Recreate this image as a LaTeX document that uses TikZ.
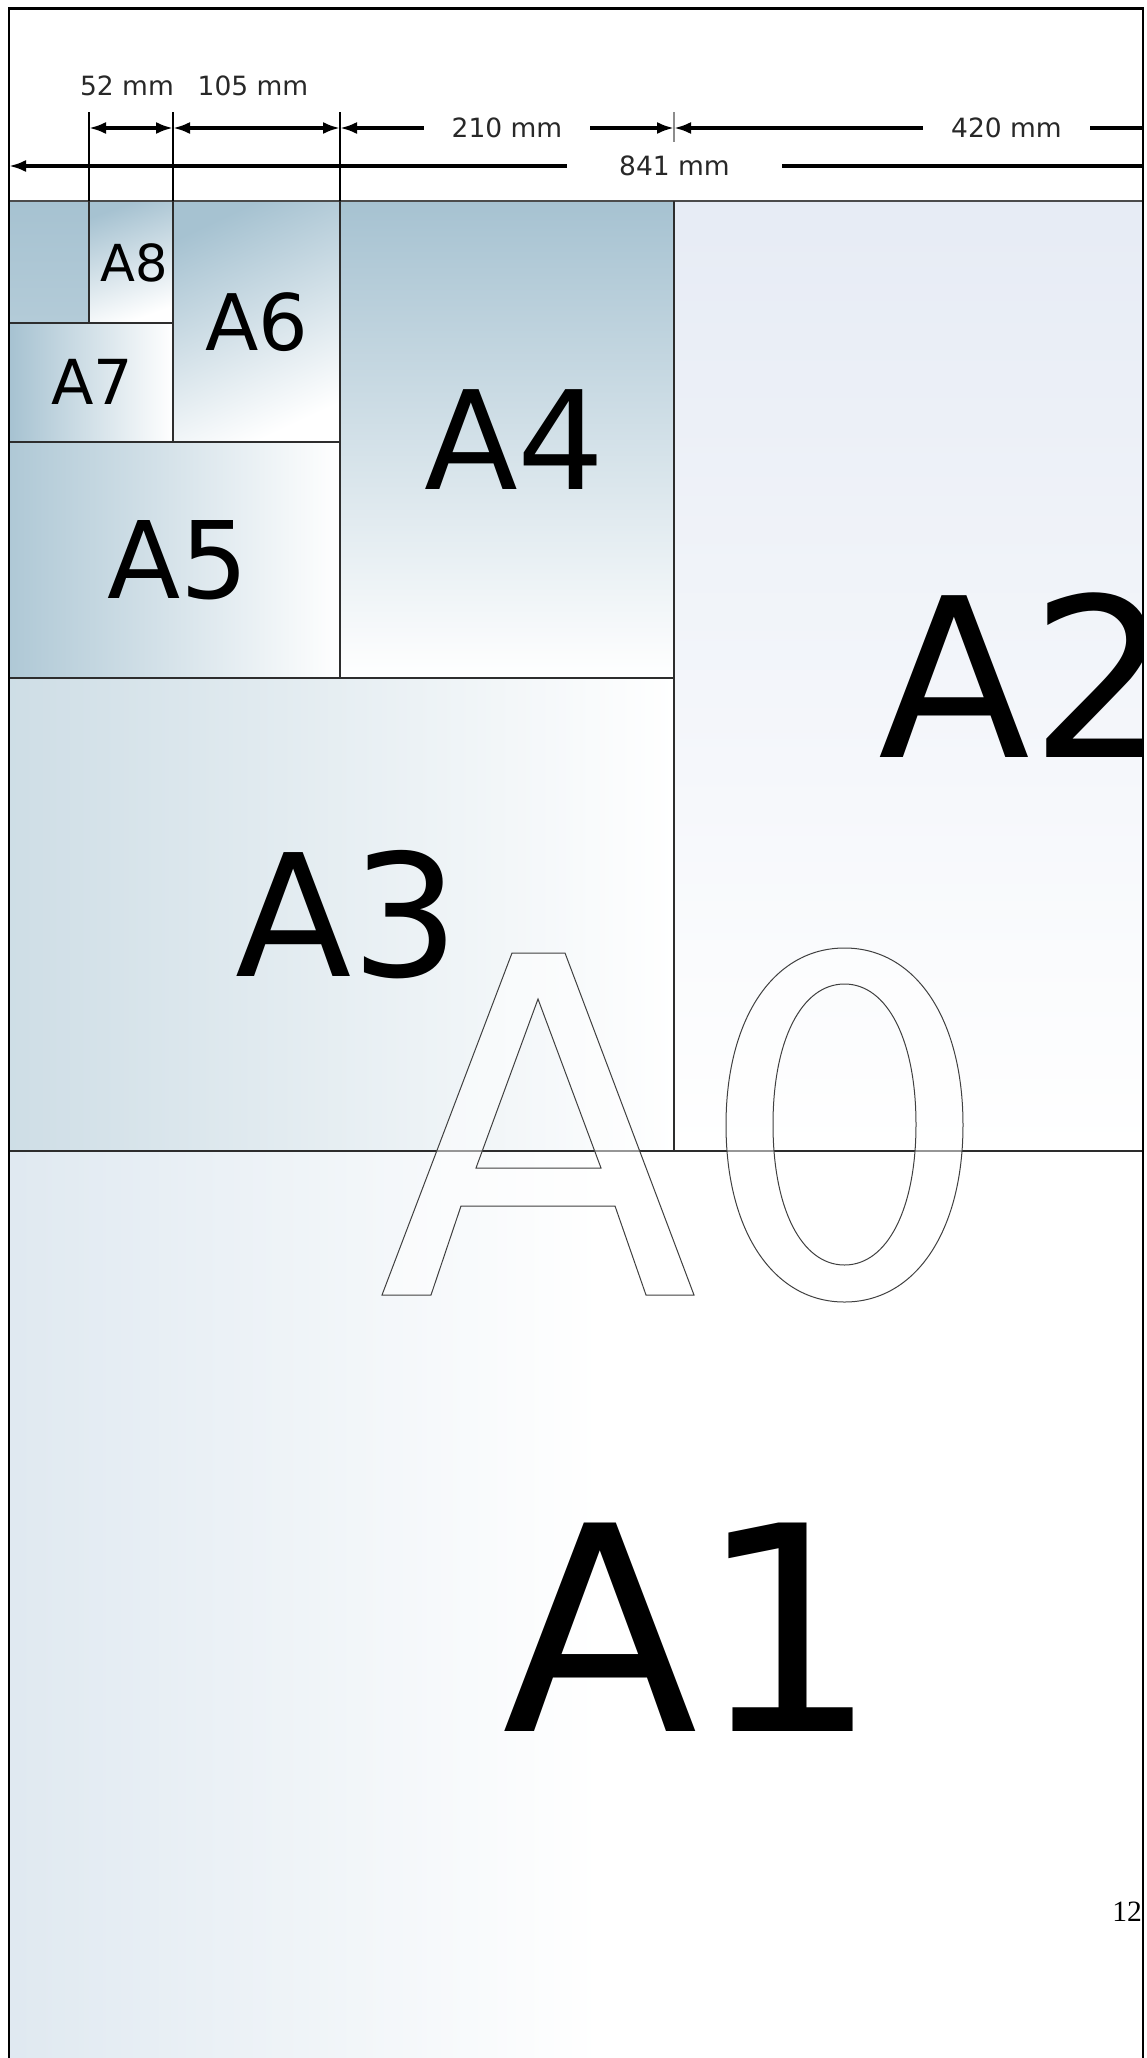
\documentclass[tikz,border=0pt]{standalone}
\usepackage{fontspec}
\setmainfont{DejaVu Sans}
\newfontfamily\pagenumfont{Liberation Serif}
\usetikzlibrary{arrows.meta, positioning, calc}
\definecolor{paperblue}{RGB}{166,194,209}
\definecolor{paperpale}{RGB}{218,229,238}
\definecolor{paperlilac}{RGB}{226,232,243}
\definecolor{sheetline}{RGB}{45,45,45}
\definecolor{labelgray}{RGB}{40,40,40}

\tikzset{
  sheetedge/.style={draw=sheetline, line width=1.6pt},
  dimarrow/.style={line width=3.2pt, {Latex[length=17pt,width=12pt]}-{Latex[length=17pt,width=12pt]}},
  extension/.style={draw=black, line width=1.3pt},
  dimtext/.style={font=\fontsize{26.5}{30}\selectfont, text=labelgray, fill=white, inner xsep=28pt, inner ysep=12pt},
  sizename/.style={anchor=south west, inner sep=0pt, text=black},
  outlineglyph/.style={draw=black!75, line width=1pt, fill=white, fill opacity=0.5, even odd rule}
}

\begin{document}
\begin{tikzpicture}[x=1pt, y=-1pt]
  \useasboundingbox (0,0) rectangle (1147,2058);
  \fill[white] (0,0) rectangle (1147,2058);

  \begin{scope}
    \clip (9,8.5) rectangle (1143,2058);
    \shade[top color=paperblue, bottom color=paperblue!85!white] (9,201) rectangle (89,323);
    \shade[top color=paperblue, bottom color=white, shading angle=20] (89,201) rectangle (173,323);
    \shade[left color=paperblue, right color=white] (9,323) rectangle (173,442);
    \shade[top color=paperblue, bottom color=white, shading angle=25] (173,201) rectangle (340,442);
    \shade[left color=paperblue!90, right color=white] (9,442) rectangle (340,678);
    \shade[top color=paperblue, bottom color=white] (340,201) rectangle (674,678);
    \shade[left color=paperblue!55, right color=white] (9,678) rectangle (674,1151);
    \shade[top color=paperlilac!85!white, bottom color=white] (674,201) rectangle (1143,1151);
    \shade[left color=paperpale!85!white, right color=white] (9,1151) rectangle (600,2058);

    \draw[sheetedge, draw=black!70, line width=2.6pt] (9,201) -- (1143,201);
    \draw[sheetedge] (89,201) -- (89,323);
    \draw[sheetedge] (9,323) -- (173,323);
    \draw[sheetedge] (173,201) -- (173,442);
    \draw[sheetedge] (9,442) -- (340,442);
    \draw[sheetedge] (340,201) -- (340,678);
    \draw[sheetedge] (9,678) -- (674,678);
    \draw[sheetedge] (674,201) -- (674,1151);
    \draw[sheetedge] (9,1151) -- (1143,1151);

    \draw[extension] (89,112) -- (89,201);
    \draw[extension] (173,112) -- (173,201);
    \draw[extension] (340,112) -- (340,201);
    \draw[extension, draw=black!45] (674,112) -- (674,142);

    \coordinate (d52a) at (89,128);
    \coordinate (d52b) at (173,128);
    \coordinate (d105b) at (340,128);
    \coordinate (d210b) at (674,128);
    \coordinate (d420b) at (1339,128);
    \coordinate (d841a) at (9,166);
    \coordinate (d841b) at (1340,166);

    \draw[dimarrow] (d52a) -- (d52b);
    \draw[dimarrow] (d52b) -- (d105b);
    \draw[dimarrow] (d105b) -- (d210b) node[dimtext, midway] (l210) {210 mm};
    \draw[dimarrow] (d210b) -- (d420b) node[dimtext, midway] (l420) {420 mm};
    \draw[dimarrow] (d841a) -- (d841b) node[dimtext, midway, inner xsep=52pt] (l841) {841 mm};

    \node[font=\fontsize{26.5}{30}\selectfont, text=labelgray] (l52) at (127,86) {52 mm};
    \node[font=\fontsize{26.5}{30}\selectfont, text=labelgray] (l105) at (253,86) {105 mm};

    \node[sizename, font=\fontsize{51}{51}\selectfont] (a8) at (100,282) {A8};
    \node[sizename, font=\fontsize{62}{62}\selectfont] (a7) at (51,405) {A7};
    \node[sizename, font=\fontsize{78}{78}\selectfont] (a6) at (205,352) {A6};
    \node[sizename, font=\fontsize{107}{107}\selectfont] (a5) at (107,600) {A5};
    \node[sizename, font=\fontsize{137}{137}\selectfont] (a4) at (424,490) {A4};
    \node[sizename, font=\fontsize{170}{170}\selectfont] (a3) at (235,979) {A3};
    \node[sizename, font=\fontsize{222}{222}\selectfont] (a2) at (878,758) {A2};
    \node[sizename, font=\fontsize{286}{286}\selectfont] (a1) at (502,1732) {A1};

    \path[outlineglyph] (382,1295) -- (512,953) -- (565,953) -- (694,1295) -- (646,1295)
      -- (615,1206) -- (461,1206) -- (431,1295) -- cycle
      (538,999) -- (601,1168) -- (476,1168) -- cycle;
    \path[outlineglyph] (844.5,948) .. controls (915.6,948) and (963,1018.8) .. (963,1125)
      .. controls (963,1231.2) and (915.6,1302) .. (844.5,1302)
      .. controls (773.4,1302) and (726,1231.2) .. (726,1125)
      .. controls (726,1018.8) and (773.4,948) .. (844.5,948) -- cycle
      (844.5,984) .. controls (887.4,984) and (916,1040.2) .. (916,1124.5)
      .. controls (916,1208.8) and (887.4,1265) .. (844.5,1265)
      .. controls (801.6,1265) and (773,1208.8) .. (773,1124.5)
      .. controls (773,1040.2) and (801.6,984) .. (844.5,984) -- cycle;

    \node[anchor=south east, inner sep=0pt, font=\pagenumfont\fontsize{29.5}{30}\selectfont] (pagenum) at (1142,1922) {12};
  \end{scope}

  \draw[black, line width=2.6pt] (9,2070) -- (9,8.5) -- (1143,8.5) -- (1143,2070);
\end{tikzpicture}
\end{document}
